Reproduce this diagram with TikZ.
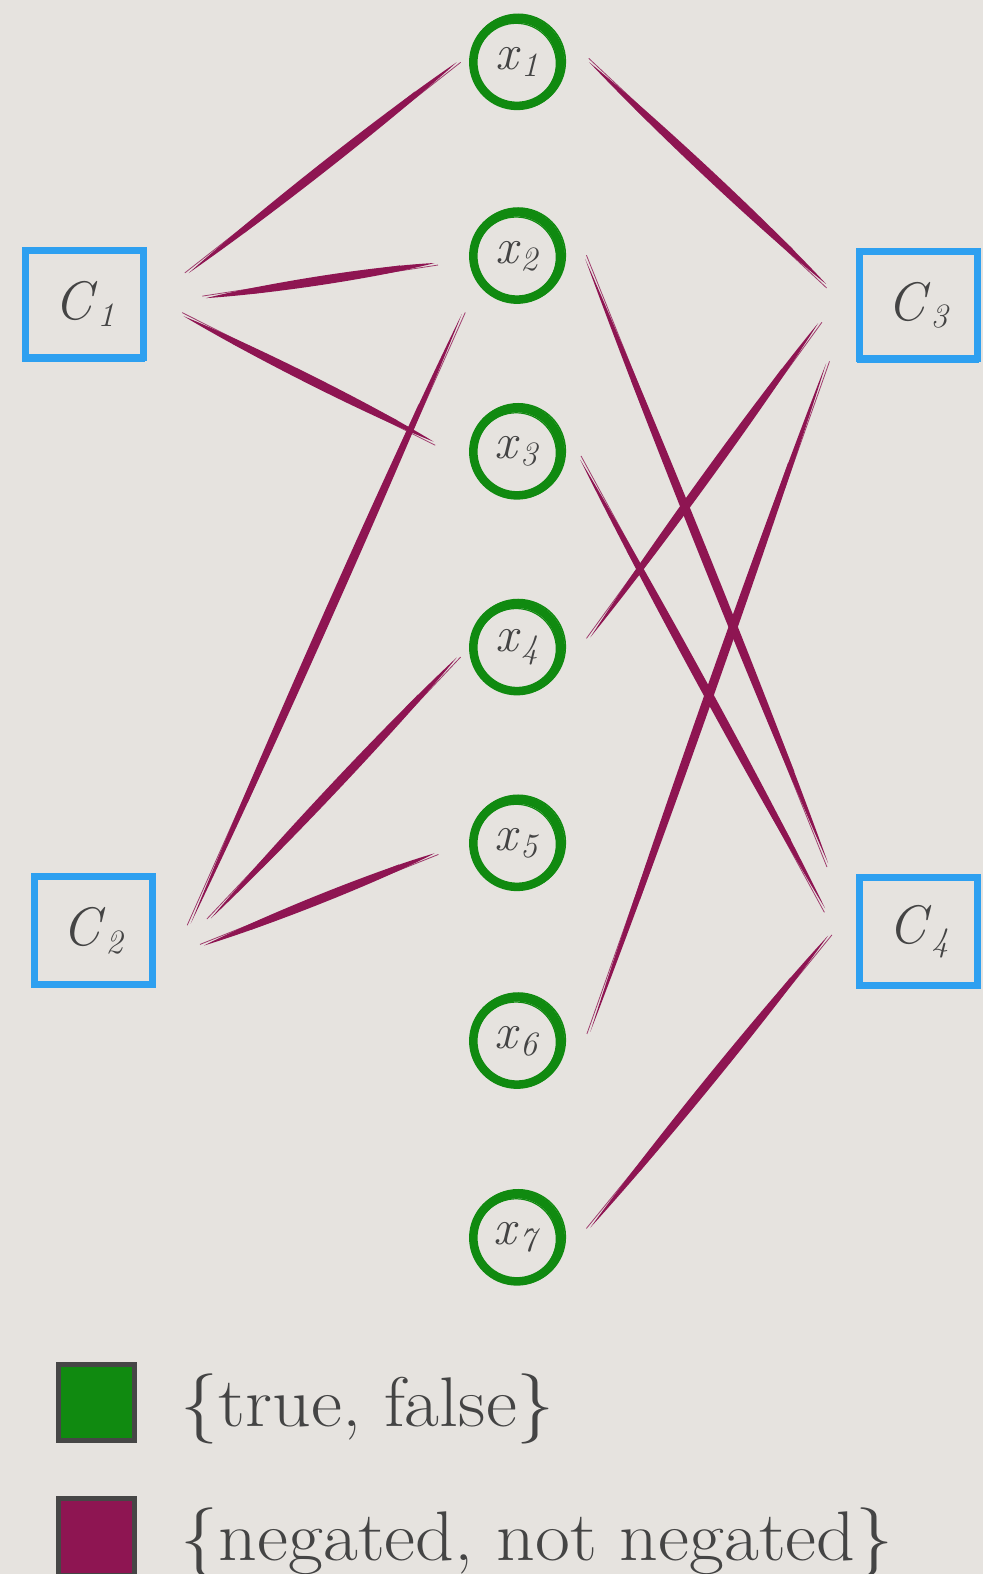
\documentclass[tikz,border=0pt]{standalone}
\usepackage{graphicx}
\usetikzlibrary{calc}
\definecolor{bg}{RGB}{230,227,223}
\definecolor{mag}{RGB}{142,21,82}
\definecolor{vgreen}{RGB}{16,138,16}
\definecolor{cblue}{RGB}{46,160,240}
\definecolor{txt}{RGB}{68,68,68}
\definecolor{sqedge}{RGB}{70,70,70}
\newcommand{\brushline}[2]{%
  \path #1 coordinate (bA) #2 coordinate (bB);
  \fill[mag] (bA) .. controls ($(bA)!0.3!(bB)!6pt!90:(bB)$) and ($(bA)!0.75!(bB)!6pt!90:(bB)$) .. (bB)
     .. controls ($(bA)!0.75!(bB)!6pt!-90:(bB)$) and ($(bA)!0.3!(bB)!6pt!-90:(bB)$) .. (bA) -- cycle;
  \draw[mag, line width=0.8pt, opacity=0.8] ($(bA)!-3pt!(bB)!2.5pt!90:(bB)$) -- ($(bB)!0.15!(bA)!2.5pt!-90:(bA)$);
  \draw[mag, line width=0.8pt, opacity=0.8] ($(bA)!0.2!(bB)!2.5pt!-90:(bB)$) -- ($(bB)!-3pt!(bA)!2.5pt!90:(bA)$);
}
\newcommand{\vlab}[2]{\textit{#1}\raisebox{-0.32ex}{\fontsize{34}{36}\selectfont\textit{#2}}}
\tikzset{
  var/.style={circle, minimum size=87pt, inner sep=0pt, draw=vgreen, line width=8.5pt, text=txt, font=\fontsize{50}{52}\selectfont},
  clause/.style={rectangle, minimum width=117pt, minimum height=107pt, inner sep=0pt, draw=cblue, line width=7pt, text=txt, font=\fontsize{54}{58}\selectfont},
  legsq/.style={rectangle, minimum size=76pt, inner sep=0pt, draw=sqedge, line width=5pt},
  legtxt/.style={anchor=base west, text=txt, font=\fontsize{70}{76}\selectfont, inner sep=0pt},
}
\begin{document}
\begin{tikzpicture}[x=1pt, y=-1pt]
\fill[bg] (0,0) rectangle (979,1568);
\useasboundingbox (0,0) rectangle (979,1568);
% variables
\node[var] (x1) at (515,62)   {\vlab{x}{1}};
\node[var] (x2) at (515,255)  {\vlab{x}{2}};
\node[var] (x3) at (515,450)  {\vlab{x}{3}};
\node[var] (x4) at (515,645)  {\vlab{x}{4}};
\node[var] (x5) at (515,840)  {\vlab{x}{5}};
\node[var] (x6) at (515,1037) {\vlab{x}{6}};
\node[var] (x7) at (515,1233) {\vlab{x}{7}};
\foreach \n in {x1,x2,x3,x4,x5,x6,x7}{
  \draw[vgreen, line width=1.5pt] ([shift={(1.2,-0.8)}]\n.center) circle (47);
  \draw[vgreen, line width=1.2pt] ([shift={(-0.8,1.2)}]\n.center) circle (40);
}
% clauses
\node[clause] (C1) at (84,303)  {\vlab{C}{1}};
\node[clause] (C2) at (93,927)  {\vlab{C}{2}};
\node[clause] (C3) at (915,304) {\vlab{C}{3}};
\node[clause] (C4) at (915,928) {\vlab{C}{4}};
\foreach \n in {C1,C2,C3,C4}{
  \draw[cblue, line width=1.2pt] ([shift={(-61,-56)}]\n.center) rectangle ([shift={(60,57)}]\n.center);
}
% connectors
\brushline{([shift={(104,-31)}]C1.center)}{([shift={(-60,0)}]x1.center)}
\brushline{([shift={(121,-6)}]C1.center)}{([shift={(-82,7)}]x2.center)}
\brushline{([shift={(99,12)}]C1.center)}{([shift={(-83,-10)}]x3.center)}
\brushline{([shift={(97,-7)}]C2.center)}{([shift={(-55,58)}]x2.center)}
\brushline{([shift={(117,-12)}]C2.center)}{([shift={(-60,10)}]x4.center)}
\brushline{([shift={(110,15)}]C2.center)}{([shift={(-82,10)}]x5.center)}
\brushline{([shift={(72,0)}]x1.center)}{([shift={(-92,-21)}]C3.center)}
\brushline{([shift={(68,3)}]x2.center)}{([shift={(-90,-68)}]C4.center)}
\brushline{([shift={(63,8)}]x3.center)}{([shift={(-93,-23)}]C4.center)}
\brushline{([shift={(73,-10)}]x4.center)}{([shift={(-100,18)}]C3.center)}
\brushline{([shift={(73,-9)}]x6.center)}{([shift={(-92,58)}]C3.center)}
\brushline{([shift={(73,-10)}]x7.center)}{([shift={(-90,4)}]C4.center)}
% legend
\node[legsq, fill=vgreen] (lg1) at (96,1397) {};
\node[legsq, fill=mag] (lg2) at (96,1531) {};
\node[legtxt] (lt1) at (180,1421) {\scalebox{1.08}[1]{\{true, false\}}};
\node[legtxt] (lt2) at (180,1555) {\scalebox{1.08}[1]{\{negated, not negated\}}};
\end{tikzpicture}
\end{document}
